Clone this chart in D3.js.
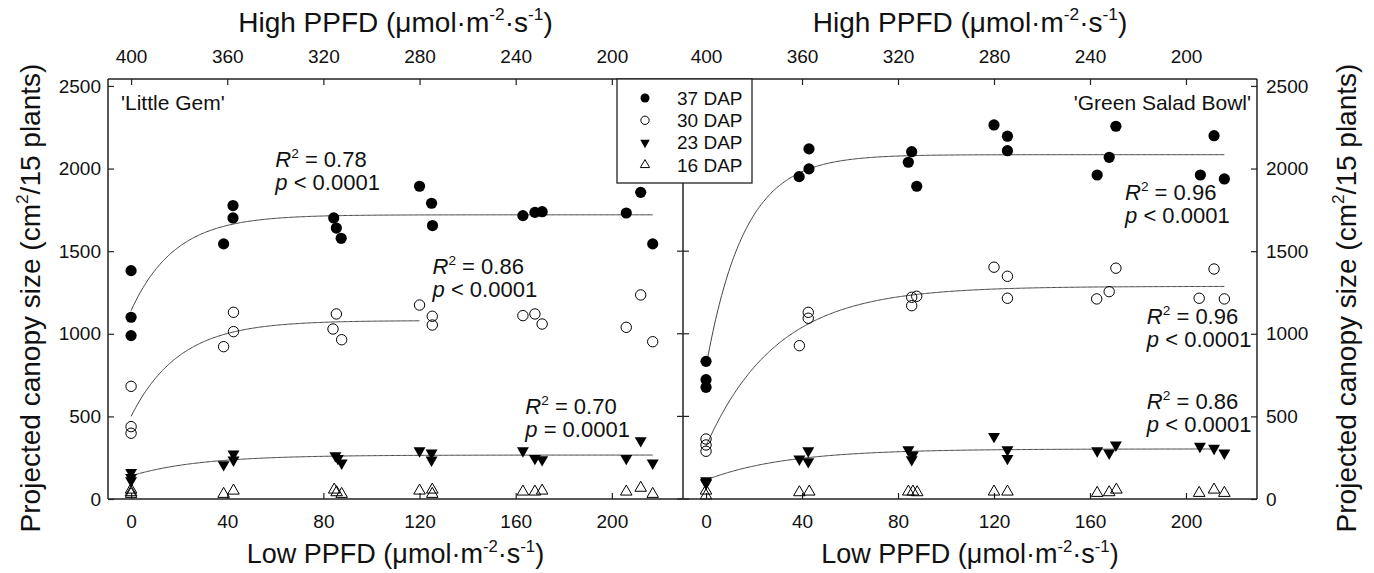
<!DOCTYPE html>
<html>
<head>
<meta charset="utf-8">
<script src="https://cdnjs.cloudflare.com/ajax/libs/d3/7.8.5/d3.min.js"></script>
<style>
body { margin: 0; background: #fff; }
</style>
</head>
<body>
<script>
// tick values
var lowTicks = [0, 40, 80, 120, 160, 200]
var highTicks = [400, 360, 320, 280, 240, 200]
var yTicks = [0, 500, 1000, 1500, 2000, 2500]
var dapLabels = ['37 DAP', '30 DAP', '23 DAP', '16 DAP']

// 'Little Gem' observations: [low PPFD, canopy size]
var gem37 = [[0,1382],[0,1100],[0,989],[38.5,1544],[42.4,1776],[42.4,1701],[84.3,1701],[85.4,1640],[87.4,1578],
  [120,1893],[125,1790],[125.4,1655],[163,1715],[168,1735],[171,1739],[206,1731],[212,1856],[217,1544]]
var gem30 = [[0,682],[0,438],[0,398],[38.5,922],[42.6,1130],[42.6,1013],[85.4,1120],[84,1029],[87.6,964],
  [120,1174],[125.3,1106],[125.3,1053],[163,1110],[168,1120],[171,1059],[206,1039],[212,1235],[217,952]]
var gem23 = [[0,161],[0,111],[0,130],[38.5,208],[42.6,272],[42.6,236],[85,262],[86,246],[87.6,218],
  [120,292],[125,278],[125,236],[163,292],[168,246],[171,238],[206,246],[212,353],[217,218]]
var gem16 = [[0,56],[0,30],[0,40],[38.5,30],[42.6,50],[84.5,56],[85.5,40],[87.6,30],
  [120,50],[125.3,56],[125.3,30],[163,44],[168,44],[171,50],[206,44],[212,67],[217,30]]

// 'Green Salad Bowl' observations
var bowl37 = [[0,833],[0,722],[0,676],[38.8,1951],[42.9,1998],[42.9,2119],[84.3,2038],[85.7,2102],[87.8,1893],
  [120,2264],[125.6,2196],[125.6,2108],[163,1961],[168,2068],[170.8,2256],[206,1961],[211.7,2199],[216,1937]]
var bowl30 = [[0,363],[0,327],[0,289],[38.9,928],[42.6,1094],[42.6,1130],[85.7,1221],[87.8,1227],[85.7,1170],
  [120,1403],[125.6,1348],[125.6,1215],[162.8,1211],[168,1255],[170.8,1397],[205.5,1215],[211.7,1392],[216,1211]]
var bowl23 = [[0,111],[0,95],[0,100],[38.9,242],[42.6,292],[42.6,226],[84.3,298],[86.2,266],[85.7,238],
  [120,379],[125.6,298],[125.6,246],[163,292],[168,278],[170.8,327],[205.8,319],[211.7,307],[216,278]]
var bowl16 = [[0,50],[0,20],[38.9,40],[43,44],[84.3,44],[86.2,44],[88,40],[120,44],[125.6,44],
  [163,36],[168,40],[171,56],[205.5,36],[211.7,56],[216,36]]

// fitted curves  y = y0 + a * (1 - exp(-b * x))
var gemFits = [
  {y0: 1140, a: 580, b: 0.055, xMax: 217},
  {y0: 500, a: 580, b: 0.05, xMax: 120},
  {y0: 140, a: 126, b: 0.035, xMax: 217}
]
var bowlFits = [
  {y0: 800, a: 1284, b: 0.063, xMax: 216},
  {y0: 320, a: 967, b: 0.034, xMax: 216},
  {y0: 115, a: 188, b: 0.03, xMax: 213}
]

// fit statistics
var gemStats = [['0.78', '< 0.0001'], ['0.86', '< 0.0001'], ['0.70', '= 0.0001']]
var bowlStats = [['0.96', '< 0.0001'], ['0.96', '< 0.0001'], ['0.86', '< 0.0001']]

var FONT = "'Liberation Sans', Arial, sans-serif"
var INK = '#222'

var width = 1374
var height = 573
var top_y = 79
var bottom_y = 499

var svg = d3.select('body')
  .append('svg')
    .attr('width', width)
    .attr('height', height)
    .style('font-family', FONT)

var y = d3.scaleLinear()
  .domain([0, 2542])
  .range([bottom_y, top_y])

var panels = [
  {name: "'Little Gem'", x0: 108, x1: 683, series: [gem37, gem30, gem23, gem16], fits: gemFits,
   stats: gemStats, statAt: [[60, 2010], [125.4, 1362], [164, 515]], side: 'left'},
  {name: "'Green Salad Bowl'", x0: 683, x1: 1257, series: [bowl37, bowl30, bowl23, bowl16], fits: bowlFits,
   stats: bowlStats, statAt: [[174.6, 1810], [183.7, 1059], [183.7, 545]], side: 'right'}
]

// text with superscripts / italics
function richText(sel, parts, size) {
  var shift = 0
  parts.forEach(function(p) {
    var t = sel.append('tspan').text(p.t)
    var target = p.sup ? -size * 0.42 : 0
    t.attr('dy', target - shift)
    shift = target
    if (p.sup) t.attr('font-size', size * 0.62)
    if (p.it) t.attr('font-style', 'italic')
  })
}

// draw one marker of a DAP series
function marker(g, idx, cx, cy, small) {
  var k = small ? 0.8 : 1
  if (idx === 0) {
    g.append('circle').attr('cx', cx).attr('cy', cy).attr('r', 5.6 * k).attr('fill', '#000')
  } else if (idx === 1) {
    g.append('circle').attr('cx', cx).attr('cy', cy).attr('r', 5.2 * k)
      .attr('fill', 'none').attr('stroke', '#000').attr('stroke-width', 1)
  } else if (idx === 2) {
    g.append('path').attr('d', d3.symbol(d3.symbolTriangle, 62 * k * k)())
      .attr('transform', 'translate(' + cx + ',' + cy + ') rotate(180)').attr('fill', '#000')
  } else {
    g.append('path').attr('d', d3.symbol(d3.symbolTriangle, 58 * k * k)())
      .attr('transform', 'translate(' + cx + ',' + cy + ')')
      .attr('fill', 'none').attr('stroke', '#000').attr('stroke-width', 1)
  }
}

function styleAxis(g) {
  g.select('.domain').remove()
  g.attr('font-family', FONT).attr('font-size', 19)
  g.selectAll('line').attr('stroke', INK).attr('stroke-width', 1.2)
  g.selectAll('text').attr('fill', '#111')
}

panels.forEach(function(p) {
  var x = d3.scaleLinear().domain([-9.6, 229.6]).range([p.x0, p.x1])
  var xTop = d3.scaleLinear().domain([409.6, 170.4]).range([p.x0, p.x1])
  var g = svg.append('g')

  // bottom and top axes
  g.append('g')
    .attr('transform', 'translate(0,' + bottom_y + ')')
    .call(d3.axisBottom(x).tickValues(lowTicks).tickSizeInner(-6).tickSizeOuter(0).tickPadding(16))
    .call(styleAxis)
  g.append('g')
    .attr('transform', 'translate(0,' + top_y + ')')
    .call(d3.axisTop(xTop).tickValues(highTicks).tickSizeInner(-6).tickSizeOuter(0).tickPadding(16))
    .call(styleAxis)

  // y axis on the outer side
  var fmt = d3.format('d')
  if (p.side === 'left') {
    g.append('g')
      .attr('transform', 'translate(' + p.x0 + ',0)')
      .call(d3.axisLeft(y).tickValues(yTicks).tickFormat(fmt).tickSizeInner(-6).tickSizeOuter(0).tickPadding(7))
      .call(styleAxis)
  } else {
    g.append('g')
      .attr('transform', 'translate(' + p.x1 + ',0)')
      .call(d3.axisRight(y).tickValues(yTicks).tickFormat(fmt).tickSizeInner(-6).tickSizeOuter(0).tickPadding(9))
      .call(styleAxis)
  }

  // axis titles
  var cx = (p.x0 + p.x1) / 2
  var tTop = g.append('text').attr('x', cx).attr('y', 32).attr('text-anchor', 'middle')
    .attr('font-size', 28).attr('fill', '#111')
  richText(tTop, [{t: 'High PPFD (\u03bcmol\u00b7m'}, {t: '-2', sup: true}, {t: '\u00b7s'}, {t: '-1', sup: true}, {t: ')'}], 28)
  var tBot = g.append('text').attr('x', cx).attr('y', 563).attr('text-anchor', 'middle')
    .attr('font-size', 27).attr('fill', '#111')
  richText(tBot, [{t: 'Low PPFD (\u03bcmol\u00b7m'}, {t: '-2', sup: true}, {t: '\u00b7s'}, {t: '-1', sup: true}, {t: ')'}], 27)

  var yx = p.side === 'left' ? 40 : 1356
  var tY = g.append('text').attr('transform', 'translate(' + yx + ',298) rotate(-90)')
    .attr('text-anchor', 'middle').attr('font-size', 28).attr('fill', '#111')
  richText(tY, [{t: 'Projected canopy size (cm'}, {t: '2', sup: true}, {t: '/15 plants)'}], 28)

  // fitted curves
  var line = d3.line().x(function(d) { return x(d[0]) }).y(function(d) { return y(d[1]) })
  p.fits.forEach(function(f) {
    var pts = d3.range(0, f.xMax + 0.01, 0.5).map(function(v) {
      return [v, f.y0 + f.a * (1 - Math.exp(-f.b * v))]
    })
    g.append('path').datum(pts).attr('d', line)
      .attr('fill', 'none').attr('stroke', '#444').attr('stroke-width', 1)
  })

  // observations
  p.series.forEach(function(s, i) {
    s.forEach(function(d) { marker(g, i, x(d[0]), y(d[1]), false) })
  })

  // statistics labels
  p.stats.forEach(function(st, i) {
    var at = p.statAt[i]
    var t1 = g.append('text').attr('x', x(at[0])).attr('y', y(at[1])).attr('font-size', 22).attr('fill', '#111')
    richText(t1, [{t: 'R', it: true}, {t: '2', sup: true}, {t: ' = ' + st[0]}], 22)
    var t2 = g.append('text').attr('x', x(at[0])).attr('y', y(at[1]) + 23).attr('font-size', 22).attr('fill', '#111')
    richText(t2, [{t: 'p', it: true}, {t: ' ' + st[1]}], 22)
  })

  // cultivar label
  g.append('text')
    .attr('x', p.side === 'left' ? p.x0 + 13 : p.x1 - 6)
    .attr('y', 110)
    .attr('text-anchor', p.side === 'left' ? 'start' : 'end')
    .attr('font-size', 21).attr('fill', '#111')
    .text(p.name)
})

// frame
var frame = svg.append('g').attr('stroke', INK).attr('stroke-width', 1.5)
frame.append('line').attr('x1', 108).attr('x2', 1257).attr('y1', top_y).attr('y2', top_y)
frame.append('line').attr('x1', 108).attr('x2', 1257).attr('y1', bottom_y).attr('y2', bottom_y)
frame.append('line').attr('x1', 108).attr('x2', 108).attr('y1', top_y).attr('y2', bottom_y)
frame.append('line').attr('x1', 1257).attr('x2', 1257).attr('y1', top_y).attr('y2', bottom_y)
frame.append('line').attr('x1', 683).attr('x2', 683).attr('y1', top_y).attr('y2', bottom_y)
yTicks.forEach(function(v) {
  frame.append('line').attr('x1', 677).attr('x2', 689).attr('y1', y(v)).attr('y2', y(v)).attr('stroke-width', 1.2)
})

// legend
var legend = svg.append('g')
legend.append('rect').attr('x', 617).attr('y', top_y).attr('width', 135).attr('height', 104)
  .attr('fill', '#fff').attr('stroke', INK).attr('stroke-width', 1.3)
dapLabels.forEach(function(lab, i) {
  var ly = 98 + i * 22.3
  marker(legend, i, 645, ly, true)
  legend.append('text').attr('x', 677).attr('y', ly).attr('dy', '0.35em')
    .attr('font-size', 19).attr('fill', '#111').text(lab)
})
</script>
</body>
</html>
